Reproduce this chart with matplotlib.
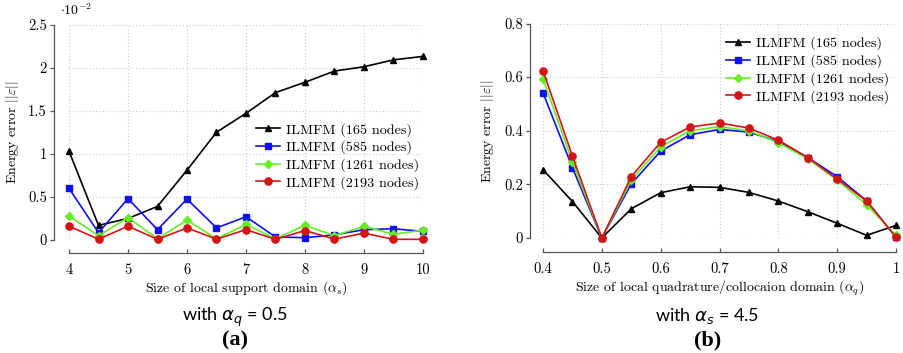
import matplotlib
matplotlib.use("Agg")
import matplotlib.pyplot as plt

# ---------------- data ----------------
alpha_s = [4, 4.5, 5, 5.5, 6, 6.5, 7, 7.5, 8, 8.5, 9, 9.5, 10]
# energy error, in units of 1e-2
a_165 = [1.03, 0.17, 0.25, 0.39, 0.81, 1.25, 1.47, 1.71, 1.83, 1.96, 2.01, 2.09, 2.13]
a_585 = [0.60, 0.085, 0.48, 0.12, 0.475, 0.14, 0.27, 0.035, 0.027, 0.06, 0.12, 0.13, 0.10]
a_1261 = [0.28, 0.05, 0.26, 0.015, 0.23, 0.015, 0.18, 0.015, 0.17, 0.05, 0.16, 0.065, 0.115]
a_2193 = [0.16, 0.01, 0.16, 0.008, 0.14, 0.01, 0.12, 0.008, 0.11, 0.01, 0.08, 0.008, 0.008]

alpha_q = [0.4, 0.45, 0.5, 0.55, 0.6, 0.65, 0.7, 0.75, 0.8, 0.85, 0.9, 0.95, 1.0]
b_165 = [0.255, 0.136, 0.0, 0.109, 0.169, 0.191, 0.189, 0.170, 0.138, 0.098, 0.055, 0.010, 0.047]
b_585 = [0.542, 0.262, 0.0, 0.202, 0.324, 0.385, 0.405, 0.395, 0.360, 0.300, 0.229, 0.139, 0.003]
b_1261 = [0.594, 0.284, 0.0, 0.216, 0.340, 0.400, 0.415, 0.400, 0.355, 0.296, 0.216, 0.124, 0.010]
b_2193 = [0.624, 0.306, 0.0, 0.229, 0.357, 0.414, 0.429, 0.410, 0.365, 0.300, 0.220, 0.138, 0.003]

labels = ["ILMFM (165 nodes)", "ILMFM (585 nodes)", "ILMFM (1261 nodes)", "ILMFM (2193 nodes)"]
left_xticks = [4, 5, 6, 7, 8, 9, 10]
left_yticks = [0, 0.5, 1, 1.5, 2, 2.5]
left_yticklabels = ["0", "0.5", "1", "1.5", "2", "2.5"]
right_xticks = [0.4, 0.5, 0.6, 0.7, 0.8, 0.9, 1.0]
right_xticklabels = ["0.4", "0.5", "0.6", "0.7", "0.8", "0.9", "1"]
right_yticks = [0, 0.2, 0.4, 0.6, 0.8]
right_yticklabels = ["0", "0.2", "0.4", "0.6", "0.8"]

# ---------------- style ----------------
plt.rcParams["font.family"] = ["cmr10", "DejaVu Serif"]
plt.rcParams["mathtext.fontset"] = "cm"
plt.rcParams["axes.formatter.use_mathtext"] = True
plt.rcParams["axes.unicode_minus"] = False

styles = [
    dict(color="black", marker="^"),
    dict(color="#1010ee", marker="s"),
    dict(color="#66ee22", marker="D"),
    dict(color="#d41515", marker="o"),
]
msizes = [4.5, 4.2, 3.8, 5.2]

W, H = 904, 353
PX = 72.0 / 100  # points per pixel
fig = plt.figure(figsize=(W / 100, H / 100), dpi=100)


def make_axes(x0, x1, ytop, ybot):
    return fig.add_axes([x0 / W, 1 - ybot / H, (x1 - x0) / W, (ybot - ytop) / H])


def style_axes(ax, loff, boff):
    for s in ["top", "right"]:
        ax.spines[s].set_visible(False)
    ax.spines["left"].set_position(("outward", loff * PX))
    ax.spines["bottom"].set_position(("outward", boff * PX))
    for s in ["left", "bottom"]:
        ax.spines[s].set_color("#555555")
        ax.spines[s].set_linewidth(0.9)
    ax.tick_params(axis="y", labelsize=10.5, color="#555555", length=4 * PX, width=0.9,
                   direction="out", pad=3 * PX)
    ax.tick_params(axis="x", labelsize=10.5, color="#555555", length=4 * PX, width=0.9,
                   direction="in", pad=10 * PX)
    ax.grid(True, linestyle=(0, (1, 2)), color="#cccccc", linewidth=0.8)
    ax.set_axisbelow(True)


# ---------- panel (a) ----------
ax1 = make_axes(69, 423, 24.5, 240)
series_a = [a_165, a_585, a_1261, a_2193]
for ys, st, ms, lb in zip(series_a, styles, msizes, labels):
    ax1.plot(alpha_s, ys, linewidth=1.2, markersize=ms, label=lb, clip_on=False, **st)
ax1.set_xlim(4, 10)
ax1.set_ylim(0, 2.5)
ax1.set_xticks(left_xticks)
ax1.set_xticklabels([str(v) for v in left_xticks])
ax1.set_yticks(left_yticks)
ax1.set_yticklabels(left_yticklabels)
style_axes(ax1, 15, 13)
ax1.set_xlabel(r"Size of local support domain ($\alpha_s$)", fontsize=10)
ax1.xaxis.set_label_coords(0.5, -(288 - 240) / 215.5, transform=ax1.transAxes)
ax1.xaxis.label.set_va("center")
ax1.set_ylabel(r"Energy error $||\varepsilon||$", fontsize=10)
ax1.yaxis.set_label_coords(-(69 - 13) / 354, 0.5)
ax1.yaxis.label.set_va("center")
ax1.text(-0.025, 1.03, r"$\cdot 10^{-2}$", transform=ax1.transAxes, fontsize=10,
         ha="left", va="bottom")
ax1.legend(loc="upper left", bbox_to_anchor=(0.50, 0.59), frameon=False,
           fontsize=10.2, handlelength=1.7, handletextpad=0.4, labelspacing=0.28,
           borderpad=0.2)

# ---------- panel (b) ----------
ax2 = make_axes(543, 896, 23.5, 238)
series_b = [b_165, b_585, b_1261, b_2193]
for ys, st, ms, lb in zip(series_b, styles, msizes, labels):
    ax2.plot(alpha_q, ys, linewidth=1.2, markersize=ms, label=lb, clip_on=False, **st)
ax2.set_xlim(0.4, 1.0)
ax2.set_ylim(0, 0.8)
ax2.set_xticks(right_xticks)
ax2.set_xticklabels(right_xticklabels)
ax2.set_yticks(right_yticks)
ax2.set_yticklabels(right_yticklabels)
style_axes(ax2, 13, 14)
ax2.set_xlabel(r"Size of local quadrature/collocaion domain ($\alpha_q$)", fontsize=10)
ax2.xaxis.set_label_coords(0.5, -(288 - 238) / 214.5, transform=ax2.transAxes)
ax2.xaxis.label.set_va("center")
ax2.set_ylabel(r"Energy error $||\varepsilon||$", fontsize=10)
ax2.yaxis.set_label_coords(-(543 - 488) / 353, 0.5)
ax2.yaxis.label.set_va("center")
ax2.legend(loc="upper left", bbox_to_anchor=(0.49, 0.985), frameon=False,
           fontsize=10.2, handlelength=1.7, handletextpad=0.4, labelspacing=0.28,
           borderpad=0.2)

# ---------- captions ----------
fig.text(235 / W, 1 - 321 / H, r"with $\alpha_q$ = 0.5", fontsize=13, ha="center",
         va="baseline", family="Lato", math_fontfamily="dejavusans")
fig.text(235 / W, 1 - 340 / H, "(a)", fontsize=16, ha="center", va="center",
         family="Liberation Serif", weight="bold")
fig.text(707 / W, 1 - 321 / H, r"with $\alpha_s$ = 4.5", fontsize=13, ha="center",
         va="baseline", family="Lato", math_fontfamily="dejavusans")
fig.text(708 / W, 1 - 340 / H, "(b)", fontsize=16, ha="center", va="center",
         family="Liberation Serif", weight="bold")

fig.savefig("out.png", dpi=100)
